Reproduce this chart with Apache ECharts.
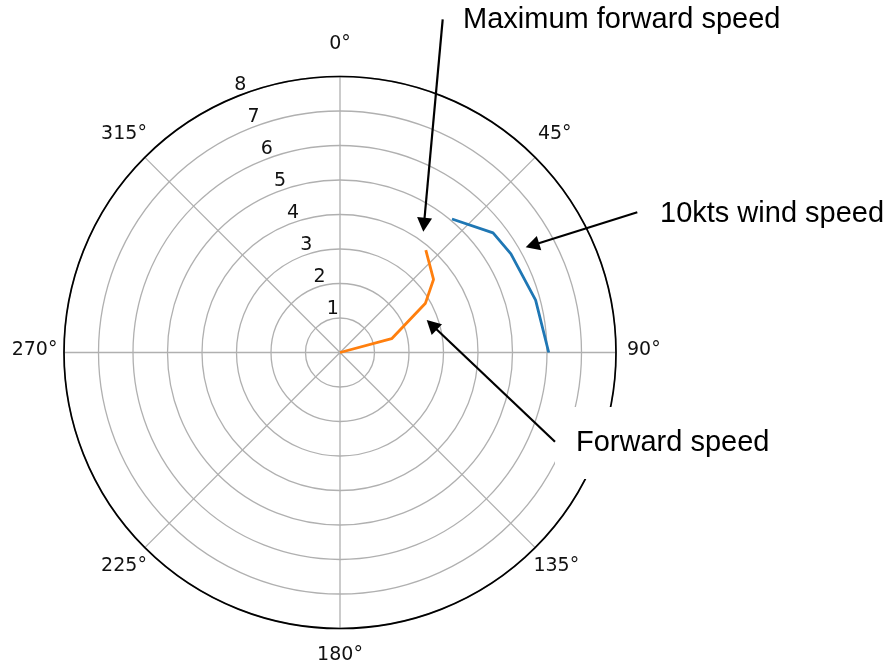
<!DOCTYPE html>
<html><head><meta charset="utf-8">
<script src="https://cdn.jsdelivr.net/npm/echarts@6/dist/echarts.min.js"></script>
<style>html,body{margin:0;padding:0;background:#fff}#c{width:888px;height:670px}</style>
</head><body><div id="c"></div>
<script>
// ---- data ----
const angles = [40, 52, 60, 75, 90];
const windSpeed10kts = [5.05, 5.63, 5.72, 5.87, 6.05];
const forwardSpeed = [3.87, 3.44, 2.86, 1.55, 0];
const angleTicks = [0, 45, 90, 135, 180, 225, 270, 315];
const radialTicks = [1, 2, 3, 4, 5, 6, 7, 8];
const annotationTexts = ['Maximum forward speed', '10kts wind speed', 'Forward speed'];

// ---- styling ----
const tickFont = 'DejaVu Sans';
const tickSize = 19;
const tickColor = '#111';
const angleLabelPad = {
  0: [0, 0, 28.8, 0],
  45: [0, 0, 18, 7],
  90: [0, 0, 5, 17],
  135: [13, 0, 0, 2.5],
  180: [23.5, 0, 0, 0],
  225: [13, 2.2, 0, 0],
  270: [0, 12.6, 5, 0],
  315: [0, 2.2, 18, 0]
};
const angleRich = {};
angleTicks.forEach(function (t) {
  angleRich['a' + t] = { padding: angleLabelPad[t], fontFamily: tickFont, fontSize: tickSize, color: tickColor };
});

const center = [340, 352.5];
const R = 276;

const chart = echarts.init(document.getElementById('c'), null, { renderer: 'canvas' });

function arrow(tail, tip) {
  const dx = tip[0] - tail[0], dy = tip[1] - tail[1];
  const len = Math.sqrt(dx * dx + dy * dy);
  const ux = dx / len, uy = dy / len;
  const hl = 14, hw = 7.5;
  const bx = tip[0] - ux * hl, by = tip[1] - uy * hl;
  return [
    { type: 'line', z: 101, shape: { x1: tail[0], y1: tail[1], x2: bx + ux * 2, y2: by + uy * 2 }, style: { stroke: '#000', lineWidth: 2.2 } },
    { type: 'polygon', z: 101, shape: { points: [tip, [bx - uy * hw, by + ux * hw], [bx + uy * hw, by - ux * hw]] }, style: { fill: '#000' } }
  ];
}
const annFont = { fontFamily: 'Liberation Sans, Arial, sans-serif', fontSize: 29, fill: '#000', backgroundColor: '#fff', padding: [21.5, 21, 21.5, 21] };
const graphics = [].concat(
  [
    { type: 'text', z: 100, x: 442, y: 20, style: Object.assign({ text: annotationTexts[0], verticalAlign: 'middle', align: 'left' }, annFont) },
    { type: 'text', z: 100, x: 639, y: 214, style: Object.assign({ text: annotationTexts[1], verticalAlign: 'middle', align: 'left' }, annFont) },
    { type: 'text', z: 100, x: 555, y: 443, style: Object.assign({ text: annotationTexts[2], verticalAlign: 'middle', align: 'left' }, annFont) }
  ],
  arrow([442.7, 19.3], [423.3, 231.7]),
  arrow([637.3, 212.3], [525.7, 247.3]),
  arrow([555, 441.7], [426.7, 320])
);

const option = {
  backgroundColor: '#fff',
  animation: false,
  polar: [
    { center: center, radius: R },
    { center: center, radius: R }
  ],
  angleAxis: [
    {
      polarIndex: 0, type: 'value', min: 0, max: 360, interval: 45, startAngle: 90, clockwise: true,
      axisLine: { show: true, lineStyle: { color: '#000', width: 1.7 } },
      axisTick: { show: false },
      splitLine: { show: true, lineStyle: { color: '#b0b0b0', width: 1.3 } },
      axisLabel: {
        show: true, margin: -6,
        formatter: function (v) { return angleTicks.indexOf(v) >= 0 ? '{a' + v + '|' + v + '°}' : ''; },
        rich: angleRich, fontFamily: tickFont, fontSize: tickSize, color: tickColor
      },
      z: 3
    },
    {
      polarIndex: 1, type: 'value', min: 0, max: 360, startAngle: 112.5, clockwise: true, show: false
    }
  ],
  radiusAxis: [
    {
      polarIndex: 0, type: 'value', min: 0, max: 8, interval: 1,
      axisLine: { show: false }, axisTick: { show: false }, axisLabel: { show: false },
      splitLine: { show: true, lineStyle: { color: '#b0b0b0', width: 1.3 } },
      z: 1
    },
    {
      polarIndex: 1, type: 'value', min: 0, max: 8, interval: 1,
      axisLine: { show: false }, axisTick: { show: false }, splitLine: { show: false },
      axisLabel: {
        show: true, margin: -13,
        formatter: function (v) { return radialTicks.indexOf(v) >= 0 ? '{r|' + v + '}' : ''; },
        rich: { r: { padding: [0, 0, 14, 0], fontFamily: tickFont, fontSize: tickSize, color: tickColor } },
        fontFamily: tickFont, fontSize: tickSize, color: tickColor
      },
      z: 5
    }
  ],
  series: [
    {
      name: '10kts wind speed', type: 'line', coordinateSystem: 'polar', polarIndex: 0,
      data: angles.map(function (a, i) { return [windSpeed10kts[i], a]; }),
      symbol: 'none', lineStyle: { color: '#1f77b4', width: 2.8 }, z: 4
    },
    {
      name: 'Forward speed', type: 'line', coordinateSystem: 'polar', polarIndex: 0,
      data: angles.map(function (a, i) { return [forwardSpeed[i], a]; }),
      symbol: 'none', lineStyle: { color: '#ff7f0e', width: 2.8 }, z: 4
    }
  ],
  graphic: graphics
};
chart.setOption(option);
</script>
</body></html>
